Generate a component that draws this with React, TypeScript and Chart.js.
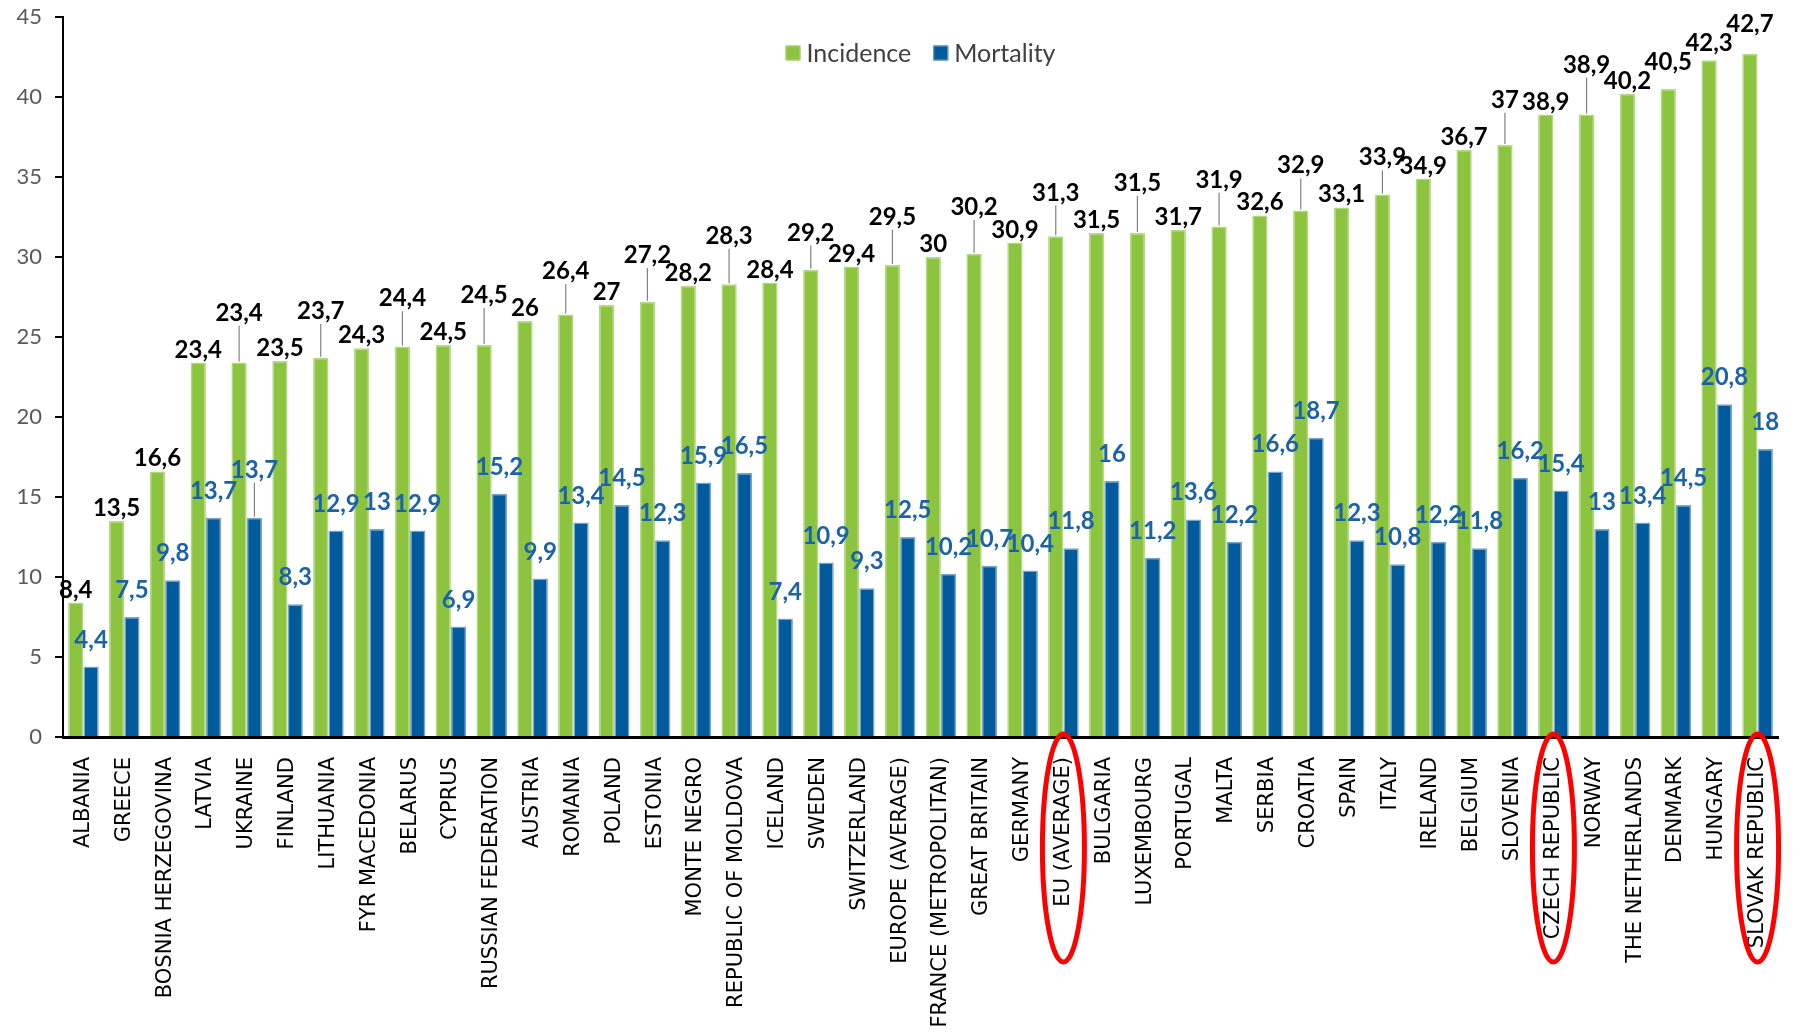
import { useEffect, useRef } from "react";
import Chart from "chart.js/auto";

const categories = [
  "ALBANIA", "GREECE", "BOSNIA HERZEGOVINA", "LATVIA", "UKRAINE", "FINLAND",
  "LITHUANIA", "FYR MACEDONIA", "BELARUS", "CYPRUS", "RUSSIAN FEDERATION",
  "AUSTRIA", "ROMANIA", "POLAND", "ESTONIA", "MONTE NEGRO",
  "REPUBLIC OF MOLDOVA", "ICELAND", "SWEDEN", "SWITZERLAND",
  "EUROPE (AVERAGE)", "FRANCE (METROPOLITAN)", "GREAT BRITAIN", "GERMANY",
  "EU (AVERAGE)", "BULGARIA", "LUXEMBOURG", "PORTUGAL", "MALTA", "SERBIA",
  "CROATIA", "SPAIN", "ITALY", "IRELAND", "BELGIUM", "SLOVENIA",
  "CZECH REPUBLIC", "NORWAY", "THE NETHERLANDS", "DENMARK", "HUNGARY",
  "SLOVAK REPUBLIC",
];

const incidence = [
  8.4, 13.5, 16.6, 23.4, 23.4, 23.5, 23.7, 24.3, 24.4, 24.5, 24.5, 26, 26.4,
  27, 27.2, 28.2, 28.3, 28.4, 29.2, 29.4, 29.5, 30, 30.2, 30.9, 31.3, 31.5,
  31.5, 31.7, 31.9, 32.6, 32.9, 33.1, 33.9, 34.9, 36.7, 37, 38.9, 38.9, 40.2,
  40.5, 42.3, 42.7,
];

const mortality = [
  4.4, 7.5, 9.8, 13.7, 13.7, 8.3, 12.9, 13, 12.9, 6.9, 15.2, 9.9, 13.4, 14.5,
  12.3, 15.9, 16.5, 7.4, 10.9, 9.3, 12.5, 10.2, 10.7, 10.4, 11.8, 16, 11.2,
  13.6, 12.2, 16.6, 18.7, 12.3, 10.8, 12.2, 11.8, 16.2, 15.4, 13, 13.4, 14.5,
  20.8, 18,
];

const seriesNames = ["Incidence", "Mortality"];
const highlighted = ["EU (AVERAGE)", "CZECH REPUBLIC", "SLOVAK REPUBLIC"];

const GREEN = "#8CC43F";
const GREEN_EDGE = "#B3D983";
const BLUE = "#005A9C";
const BLUE_EDGE = "#78A3CC";

const fmt = (v: number) => String(v).replace(".", ",");

type LabelCfg = {
  color: string;
  gap: number;
  pad: number;
  vtol: number;
  margin: number;
};

const labelCfgs: LabelCfg[] = [
  { color: "#000000", gap: 5, pad: 4, vtol: 1, margin: 20 },
  { color: "#1B62A8", gap: 19, pad: 0, vtol: 13, margin: 4 },
];

const LABEL_FONT = "bold 24px Lato";
const INK_H = 17;

const dataLabelPlugin = {
  id: "dataLabels",
  afterDatasetsDraw(chart: any) {
    const ctx: CanvasRenderingContext2D = chart.ctx;
    const chartTop = chart.chartArea.top;
    ctx.save();
    ctx.font = LABEL_FONT;
    ctx.textAlign = "center";
    ctx.textBaseline = "alphabetic";
    chart.data.datasets.forEach((ds: any, di: number) => {
      const cfg = labelCfgs[di];
      const meta = chart.getDatasetMeta(di);
      const placed: any[] = [];
      meta.data.forEach((bar: any, i: number) => {
        const text = fmt(ds.data[i]);
        const w = ctx.measureText(text).width;
        const x = bar.x;
        const barTop = bar.y;
        let base = barTop - cfg.gap;
        let raised = false;
        const prev = placed[i - 1];
        if (prev && !prev.raised) {
          const hOverlap = (w + prev.w) / 2 + 2 * cfg.pad - Math.abs(x - prev.x);
          const top = base - INK_H;
          const pTop = prev.base - INK_H;
          const vOverlap = Math.min(base, prev.base) - Math.max(top, pTop);
          if (hOverlap > 0 && vOverlap > cfg.vtol) {
            const nudged = pTop - 2;
            const lift = base - nudged;
            const raisedBase = pTop - cfg.margin;
            if (lift > 5 && raisedBase - INK_H >= chartTop + 30) {
              base = raisedBase;
              raised = true;
            } else {
              base = Math.min(base, nudged);
            }
          }
        }
        placed.push({ x, base, w, raised, barTop, text });
      });
      placed.forEach((p) => {
        if (p.raised && p.barTop - (p.base + 5) > 3) {
          ctx.strokeStyle = "#808080";
          ctx.lineWidth = 1.2;
          ctx.beginPath();
          ctx.moveTo(p.x, p.base + 5);
          ctx.lineTo(p.x, p.barTop - 1);
          ctx.stroke();
        }
        ctx.fillStyle = cfg.color;
        ctx.fillText(p.text, p.x, p.base);
      });
    });
    ctx.restore();
  },
};

const legendPlugin = {
  id: "customLegend",
  afterDraw(chart: any) {
    const ctx: CanvasRenderingContext2D = chart.ctx;
    const { left, right, top } = chart.chartArea;
    const cx = (left + right) / 2;
    const cy = top + 36;
    const box = 15;
    const textGap = 6;
    const itemGap = 22;
    ctx.save();
    ctx.font = "25px Lato";
    const widths = seriesNames.map((n) => ctx.measureText(n).width);
    const total =
      widths.reduce((a, b) => a + b, 0) +
      seriesNames.length * (box + textGap) +
      (seriesNames.length - 1) * itemGap;
    let x = cx - total / 2;
    ctx.textBaseline = "middle";
    ctx.textAlign = "left";
    seriesNames.forEach((n, i) => {
      const ds = chart.data.datasets[i];
      ctx.fillStyle = ds.backgroundColor;
      ctx.fillRect(x, cy - box / 2, box, box);
      ctx.strokeStyle = ds.borderColor;
      ctx.lineWidth = 1;
      ctx.strokeRect(x + 0.5, cy - box / 2 + 0.5, box - 1, box - 1);
      ctx.fillStyle = "#404040";
      ctx.fillText(n, x + box + textGap, cy + 1);
      x += box + textGap + widths[i] + itemGap;
    });
    ctx.restore();
  },
};

const ellipsePlugin = {
  id: "highlightEllipses",
  afterDraw(chart: any) {
    const ctx: CanvasRenderingContext2D = chart.ctx;
    const xScale = chart.scales.x;
    const base = chart.chartArea.bottom;
    ctx.save();
    ctx.strokeStyle = "#FF0000";
    ctx.lineWidth = 5;
    highlighted.forEach((name) => {
      const idx = categories.indexOf(name);
      if (idx < 0) return;
      const x = xScale.getPixelForValue(idx);
      ctx.beginPath();
      ctx.ellipse(x, base + 111, 21, 114, 0, 0, Math.PI * 2);
      ctx.stroke();
    });
    ctx.restore();
  },
};

export default function App() {
  const canvasRef = useRef<HTMLCanvasElement | null>(null);

  useEffect(() => {
    if (!canvasRef.current) return;
    const chart = new Chart(canvasRef.current, {
      type: "bar",
      data: {
        labels: categories,
        datasets: [
          {
            label: seriesNames[0],
            data: incidence,
            backgroundColor: GREEN,
            borderColor: GREEN_EDGE,
            borderWidth: 1.5,
            categoryPercentage: 0.75,
            barPercentage: 1,
          },
          {
            label: seriesNames[1],
            data: mortality,
            backgroundColor: BLUE,
            borderColor: BLUE_EDGE,
            borderWidth: 1.5,
            categoryPercentage: 0.75,
            barPercentage: 1,
          },
        ],
      },
      options: {
        responsive: false,
        animation: false,
        devicePixelRatio: 1,
        events: [],
        layout: {
          autoPadding: false,
          padding: { top: 17, right: 15, bottom: 0, left: 0 },
        },
        plugins: {
          legend: { display: false },
          tooltip: { enabled: false },
          title: { display: false },
        },
        scales: {
          x: {
            type: "category",
            grid: { display: false, drawTicks: false },
            border: { display: true, color: "#000000", width: 3 },
            ticks: {
              autoSkip: false,
              maxRotation: 90,
              minRotation: 90,
              padding: 20,
              color: "#000000",
              font: { family: "'DejaVu Sans'", size: 21 },
            },
            afterFit: (scale: any) => {
              scale.height = 299;
              scale.paddingLeft = 0;
              scale.paddingRight = 0;
            },
          },
          y: {
            min: 0,
            max: 45,
            ticks: {
              stepSize: 5,
              padding: 13,
              color: "#595959",
              font: { family: "Lato", size: 22 },
            },
            grid: {
              display: true,
              drawOnChartArea: false,
              drawTicks: true,
              tickLength: 8,
              color: "#000000",
              lineWidth: 2,
            },
            border: { display: true, color: "#000000", width: 2 },
            afterFit: (scale: any) => {
              scale.width = 63;
              scale.paddingTop = 0;
              scale.paddingBottom = 0;
            },
          },
        },
      },
      plugins: [dataLabelPlugin, legendPlugin, ellipsePlugin],
    } as any);
    return () => chart.destroy();
  }, []);

  return (
    <div
      style={{
        position: "absolute",
        left: 0,
        top: 0,
        width: 1793,
        height: 1036,
        overflow: "hidden",
        background: "#ffffff",
      }}
    >
      <canvas
        ref={canvasRef}
        width={1793}
        height={1036}
        style={{ display: "block", width: 1793, height: 1036 }}
      />
    </div>
  );
}
